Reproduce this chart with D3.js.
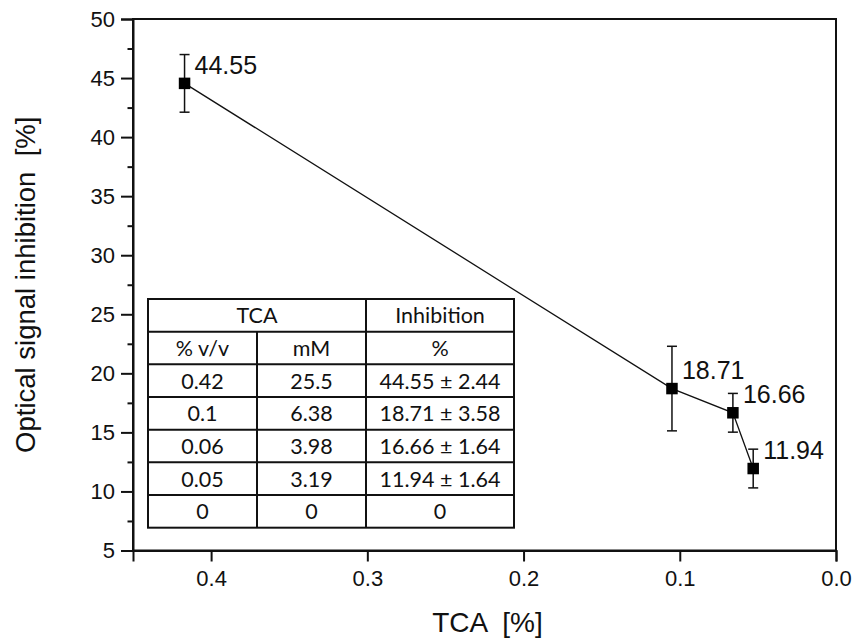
<!DOCTYPE html>
<html>
<head>
<meta charset="utf-8">
<script src="https://cdn.jsdelivr.net/npm/d3@7"></script>
<style>
  html, body { margin: 0; padding: 0; background: #fff; }
  svg { display: block; }
  text { fill: #111; }
</style>
</head>
<body>
<svg id="chart" width="857" height="644"></svg>
<script>
// TCA concentration (% v/v) vs. optical signal inhibition (%)
const tcaPercent   = [0.417, 0.105, 0.066, 0.053];
const inhibition   = [44.55, 18.71, 16.66, 11.94];
const inhibitionSD = [2.44, 3.58, 1.64, 1.64];
const pointLabels  = ["44.55", "18.71", "16.66", "11.94"];

const xTicks = [0.4, 0.3, 0.2, 0.1, 0.0];
const yTicks = [5, 10, 15, 20, 25, 30, 35, 40, 45, 50];
const yMinorTicks = [7.5, 12.5, 17.5, 22.5, 27.5, 32.5, 37.5, 42.5, 47.5];

// Inset summary table
const tableGroupHeader = ["TCA", "Inhibition"];
const tableUnitHeader  = ["% v/v", "mM", "%"];
const tableVV   = ["0.42", "0.1", "0.06", "0.05", "0"];
const tableMM   = ["25.5", "6.38", "3.98", "3.19", "0"];
const tableInh  = ["44.55 ± 2.44", "18.71 ± 3.58", "16.66 ± 1.64", "11.94 ± 1.64", "0"];

const svg = d3.select("#chart");
const plot = { left: 133, right: 836, top: 19, bottom: 550.5 };
const sans = "'Liberation Sans', Arial, Helvetica, sans-serif";

const x = d3.scaleLinear().domain([0.45, 0]).range([plot.left, plot.right]);
const y = d3.scaleLinear().domain([5, 50]).range([plot.bottom, plot.top]);

// Frame
svg.append("rect")
  .attr("x", plot.left).attr("y", plot.top)
  .attr("width", plot.right - plot.left).attr("height", plot.bottom - plot.top)
  .attr("fill", "none").attr("stroke", "#111").attr("stroke-width", 2);

// Y axis (major + minor ticks)
const yAxis = svg.append("g")
  .attr("transform", `translate(${plot.left},0)`)
  .call(d3.axisLeft(y).tickValues(yTicks).tickSize(12).tickPadding(6).tickFormat(d3.format("d")));
svg.append("g")
  .attr("transform", `translate(${plot.left},0)`)
  .call(d3.axisLeft(y).tickValues(yMinorTicks).tickSize(5.5).tickFormat(""))
  .call(g => g.select(".domain").remove());

// X axis
const xAxis = svg.append("g")
  .attr("transform", `translate(0,${plot.bottom})`)
  .call(d3.axisBottom(x).tickValues(xTicks).tickSize(11).tickPadding(9).tickFormat(d3.format(".1f")));

svg.selectAll(".domain").attr("stroke", "#111").attr("stroke-width", 2);
svg.selectAll(".tick line").attr("stroke", "#111").attr("stroke-width", 2);
yAxis.selectAll(".tick text")
  .attr("font-family", sans).attr("font-size", 22).attr("fill", "#111");
xAxis.selectAll(".tick text")
  .attr("font-family", sans).attr("font-size", 22).attr("fill", "#111");

// Axis titles
svg.append("text")
  .attr("x", (plot.left + plot.right) / 2 + 3).attr("y", 632)
  .attr("text-anchor", "middle")
  .attr("font-family", sans).attr("font-size", 28)
  .style("white-space", "pre")
  .text("TCA  [%]");

svg.append("text")
  .attr("transform", `translate(35,${(plot.top + plot.bottom) / 2}) rotate(-90)`)
  .attr("text-anchor", "middle")
  .attr("font-family", sans).attr("font-size", 27.5)
  .style("white-space", "pre")
  .text("Optical signal inhibition  [%]");

// Inset table
const tbl = { left: 148, top: 299, colX: [148, 257, 366, 514], rowH: 32.67 };
const tableFont = "Lato, 'Open Sans', sans-serif";
const tg = svg.append("g");
const nRows = 2 + tableVV.length;
const tblBottom = tbl.top + nRows * tbl.rowH;

tg.append("rect")
  .attr("x", tbl.colX[0]).attr("y", tbl.top)
  .attr("width", tbl.colX[3] - tbl.colX[0]).attr("height", tblBottom - tbl.top)
  .attr("fill", "#fff").attr("stroke", "#111").attr("stroke-width", 2);

// horizontal rules
d3.range(1, nRows).forEach(i => {
  tg.append("line")
    .attr("x1", tbl.colX[0]).attr("x2", tbl.colX[3])
    .attr("y1", tbl.top + i * tbl.rowH).attr("y2", tbl.top + i * tbl.rowH)
    .attr("stroke", "#111").attr("stroke-width", 2);
});
// vertical rules (first divider skips the grouped header row)
tg.append("line")
  .attr("x1", tbl.colX[1]).attr("x2", tbl.colX[1])
  .attr("y1", tbl.top + tbl.rowH).attr("y2", tblBottom)
  .attr("stroke", "#111").attr("stroke-width", 2);
tg.append("line")
  .attr("x1", tbl.colX[2]).attr("x2", tbl.colX[2])
  .attr("y1", tbl.top).attr("y2", tblBottom)
  .attr("stroke", "#111").attr("stroke-width", 2);

function cell(text, cx, row) {
  tg.append("text")
    .attr("x", cx)
    .attr("y", tbl.top + row * tbl.rowH + tbl.rowH / 2 + 8)
    .attr("text-anchor", "middle")
    .attr("font-family", tableFont).attr("font-size", 21.5)
    .attr("fill", "#111")
    .text(text);
}
const colCenter = i => (tbl.colX[i] + tbl.colX[i + 1]) / 2;
cell(tableGroupHeader[0], (tbl.colX[0] + tbl.colX[2]) / 2, 0);
cell(tableGroupHeader[1], colCenter(2), 0);
tableUnitHeader.forEach((t, i) => cell(t, colCenter(i), 1));
tableVV.forEach((t, r) => cell(t, colCenter(0), r + 2));
tableMM.forEach((t, r) => cell(t, colCenter(1), r + 2));
tableInh.forEach((t, r) => cell(t, colCenter(2), r + 2));

// Data
const data = tcaPercent.map((v, i) => ({
  x: v, y: inhibition[i], sd: inhibitionSD[i], label: pointLabels[i]
}));

// Connecting line
svg.append("path")
  .datum(data)
  .attr("fill", "none").attr("stroke", "#111").attr("stroke-width", 1.3)
  .attr("d", d3.line().x(d => x(d.x)).y(d => y(d.y)));

// Error bars
const eb = svg.append("g").attr("stroke", "#111").attr("stroke-width", 1.5);
data.forEach(d => {
  const cx = x(d.x), cap = 5;
  eb.append("line").attr("x1", cx).attr("x2", cx).attr("y1", y(d.y + d.sd)).attr("y2", y(d.y - d.sd));
  eb.append("line").attr("x1", cx - cap).attr("x2", cx + cap).attr("y1", y(d.y + d.sd)).attr("y2", y(d.y + d.sd));
  eb.append("line").attr("x1", cx - cap).attr("x2", cx + cap).attr("y1", y(d.y - d.sd)).attr("y2", y(d.y - d.sd));
});

// Square markers
const ms = 11.5;
svg.append("g").selectAll("rect")
  .data(data).join("rect")
  .attr("x", d => x(d.x) - ms / 2).attr("y", d => y(d.y) - ms / 2)
  .attr("width", ms).attr("height", ms)
  .attr("fill", "#000");

// Value labels
svg.append("g").selectAll("text")
  .data(data).join("text")
  .attr("x", d => x(d.x) + 10).attr("y", d => y(d.y) - 9.5)
  .attr("font-family", sans).attr("font-size", 25)
  .attr("fill", "#111")
  .text(d => d.label);
</script>
</body>
</html>
